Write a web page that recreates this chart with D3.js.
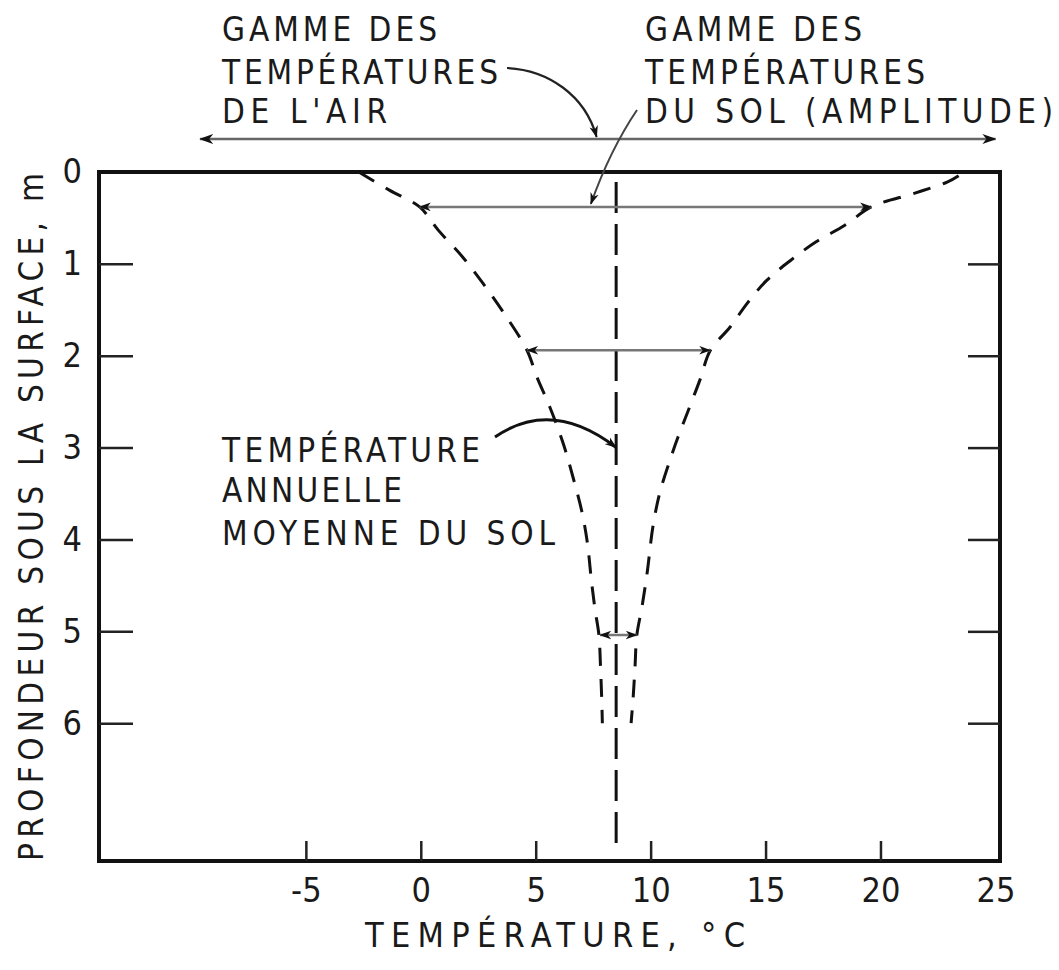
<!DOCTYPE html>
<html>
<head>
<meta charset="utf-8">
<script src="https://cdn.jsdelivr.net/npm/d3@7"></script>
<style>
  html, body { margin: 0; padding: 0; background: #fff; }
  svg { display: block; }
  text { fill: #1a1a1a; }
</style>
</head>
<body>
<svg id="chart" width="1059" height="970"></svg>
<script>
// ---------- data ----------
const xTickValues = [-5, 0, 5, 10, 15, 20, 25];
const yTickValues = [0, 1, 2, 3, 4, 5, 6];
const yRightTicks = [1, 2, 3, 4, 5, 6];
const meanSoilTemp = 8.5;
const airRange = [-9.6, 25];

// lower envelope (minimum soil temperature) : depth (m), temperature (°C)
const minDepth = [0.0, 0.2, 0.38, 0.63, 0.92, 1.21, 1.53, 1.94, 2.23, 2.55, 2.95, 3.32, 3.71, 4.04, 4.44, 4.76, 5.04, 5.39, 5.72, 6.0];
const minTemp  = [-2.7, -1.35, -0.05, 0.75, 1.8, 2.7, 3.6, 4.62, 5.05, 5.6, 6.19, 6.62, 7.02, 7.25, 7.42, 7.58, 7.75, 7.82, 7.87, 7.9];

// upper envelope (maximum soil temperature)
const maxDepth = [0.04, 0.11, 0.23, 0.38, 0.58, 0.76, 0.96, 1.18, 1.43, 1.69, 1.94, 2.26, 2.62, 2.88, 3.13, 3.49, 3.86, 4.36, 4.74, 5.04, 5.39, 5.72, 6.0];
const maxTemp  = [23.4, 22.9, 21.5, 19.6, 18.45, 17.2, 16.1, 15.05, 14.2, 13.45, 12.6, 12.15, 11.6, 11.2, 10.85, 10.4, 10.1, 9.85, 9.62, 9.4, 9.32, 9.24, 9.15];

// amplitude arrows
const ampDepth = [0.38, 1.94, 5.04];
const ampMin   = [-0.05, 4.62, 7.8];
const ampMax   = [19.6, 12.6, 9.4];

const xTitle = "TEMPÉRATURE, °C";
const yTitle = "PROFONDEUR SOUS LA SURFACE, m";
const airLabel = ["GAMME DES", "TEMPÉRATURES", "DE L'AIR"];
const soilLabel = ["GAMME DES", "TEMPÉRATURES", "DU SOL (AMPLITUDE)"];
const meanLabel = ["TEMPÉRATURE", "ANNUELLE", "MOYENNE DU SOL"];

// ---------- drawing ----------
const FONT = "'Liberation Sans Narrow','DejaVu Sans Condensed','Roboto Condensed','Liberation Sans',sans-serif";
const svg = d3.select("#chart");

const x = d3.scaleLinear().domain([-14, 25.2]).range([99, 1000]);
const y = d3.scaleLinear().domain([0, 7.5]).range([172, 861]);

const defs = svg.append("defs");
defs.append("marker")
  .attr("id", "ah").attr("viewBox", "0 0 14 10")
  .attr("markerWidth", 14).attr("markerHeight", 10)
  .attr("refX", 13).attr("refY", 5)
  .attr("markerUnits", "userSpaceOnUse")
  .attr("orient", "auto-start-reverse")
  .append("path").attr("d", "M0,0 L14,5 L0,10 L4,5 Z").attr("fill", "#111");
defs.append("marker")
  .attr("id", "ahs").attr("viewBox", "0 0 14 10")
  .attr("markerWidth", 12).attr("markerHeight", 9)
  .attr("refX", 13).attr("refY", 5)
  .attr("markerUnits", "userSpaceOnUse")
  .attr("orient", "auto-start-reverse")
  .append("path").attr("d", "M0,0 L14,5 L0,10 L4,5 Z").attr("fill", "#111");

// frame
svg.append("rect")
  .attr("x", x.range()[0]).attr("y", y.range()[0])
  .attr("width", x.range()[1] - x.range()[0])
  .attr("height", y.range()[1] - y.range()[0])
  .attr("fill", "none").attr("stroke", "#111").attr("stroke-width", 4);

// axes
const axL = svg.append("g").attr("transform", `translate(${x.range()[0]},0)`)
  .call(d3.axisLeft(y).tickValues(yTickValues).tickFormat(d3.format("d")).tickSize(-34).tickPadding(17));
const axR = svg.append("g").attr("transform", `translate(${x.range()[1]},0)`)
  .call(d3.axisRight(y).tickValues(yRightTicks).tickFormat("").tickSize(-32));
const axB = svg.append("g").attr("transform", `translate(0,${y.range()[1]})`)
  .call(d3.axisBottom(x).tickValues(xTickValues).tickFormat(d => d < 0 ? "-" + Math.abs(d) : d).tickSize(-20).tickPadding(17));
[axL, axR, axB].forEach(a => {
  a.select(".domain").remove();
  a.selectAll(".tick line").attr("stroke", "#222").attr("stroke-width", 2.5);
  a.selectAll(".tick text").attr("font-family", FONT).attr("font-size", 34).attr("fill", "#222");
});
axB.selectAll(".tick").filter(d => d === 25).select("line").remove();
axL.selectAll(".tick").filter(d => d === 0).select("line").remove();

// envelope curves
const line = d3.line().x(d => x(d[1])).y(d => y(d[0])).curve(d3.curveCatmullRom.alpha(0.5));
svg.append("path").datum(d3.zip(minDepth, minTemp)).attr("d", line)
  .attr("fill", "none").attr("stroke", "#111").attr("stroke-width", 3).attr("stroke-dasharray", "18,13");
svg.append("path").datum(d3.zip(maxDepth, maxTemp)).attr("d", line)
  .attr("fill", "none").attr("stroke", "#111").attr("stroke-width", 3).attr("stroke-dasharray", "18,13");

// mean annual line
svg.append("line")
  .attr("x1", x(meanSoilTemp)).attr("x2", x(meanSoilTemp))
  .attr("y1", y(0.11)).attr("y2", y(7.36))
  .attr("stroke", "#111").attr("stroke-width", 3).attr("stroke-dasharray", "31,11");

// amplitude arrows
svg.selectAll(".amp").data(d3.range(ampDepth.length)).join("line")
  .attr("class", "amp")
  .attr("x1", i => x(ampMin[i])).attr("x2", i => x(ampMax[i]))
  .attr("y1", i => y(ampDepth[i])).attr("y2", i => y(ampDepth[i]))
  .attr("stroke", "#777").attr("stroke-width", 2.5)
  .attr("marker-start", "url(#ahs)").attr("marker-end", "url(#ahs)");

// air temperature range arrow
const airY = 139;
svg.append("line")
  .attr("x1", x(airRange[0])).attr("x2", x(airRange[1]))
  .attr("y1", airY).attr("y2", airY)
  .attr("stroke", "#666").attr("stroke-width", 2.5)
  .attr("marker-start", "url(#ah)").attr("marker-end", "url(#ah)");

// text blocks
function block(lines, x0, baselines, lengths, size) {
  lines.forEach((t, i) => {
    svg.append("text").attr("x", x0).attr("y", baselines[i])
      .attr("font-family", FONT).attr("font-size", size)
      .attr("textLength", lengths[i]).attr("lengthAdjust", "spacing")
      .text(t);
  });
}
block(airLabel, 222, [41, 84, 123], [215, 276, 165], 33);
block(soilLabel, 645, [41, 84, 123], [217, 280, 408], 33);
block(meanLabel, 222, [462, 502, 545], [258, 180, 333], 33);

// leader arrows
svg.append("path")
  .attr("d", `M507,68 C548,70 585,95 ${x(7.65)},${airY - 2}`)
  .attr("fill", "none").attr("stroke", "#222").attr("stroke-width", 2.2)
  .attr("marker-end", "url(#ahs)");
svg.append("path")
  .attr("d", `M637,110 Q610,150 ${x(7.4)},${y(ampDepth[0]) - 3}`)
  .attr("fill", "none").attr("stroke", "#444").attr("stroke-width", 2)
  .attr("marker-end", "url(#ahs)");
svg.append("path")
  .attr("d", `M495,437 Q552,398 ${x(meanSoilTemp)},${y(3.0)}`)
  .attr("fill", "none").attr("stroke", "#111").attr("stroke-width", 3)
  .attr("marker-end", "url(#ahs)");

// axis titles
svg.append("text").attr("x", 365).attr("y", 947)
  .attr("font-family", FONT).attr("font-size", 34)
  .attr("textLength", 380).attr("lengthAdjust", "spacing")
  .text(xTitle);
svg.append("text").attr("transform", "translate(43,861) rotate(-90)")
  .attr("x", 0).attr("y", 0)
  .attr("font-family", FONT).attr("font-size", 33)
  .attr("textLength", 688).attr("lengthAdjust", "spacing")
  .text(yTitle);
</script>
</body>
</html>
